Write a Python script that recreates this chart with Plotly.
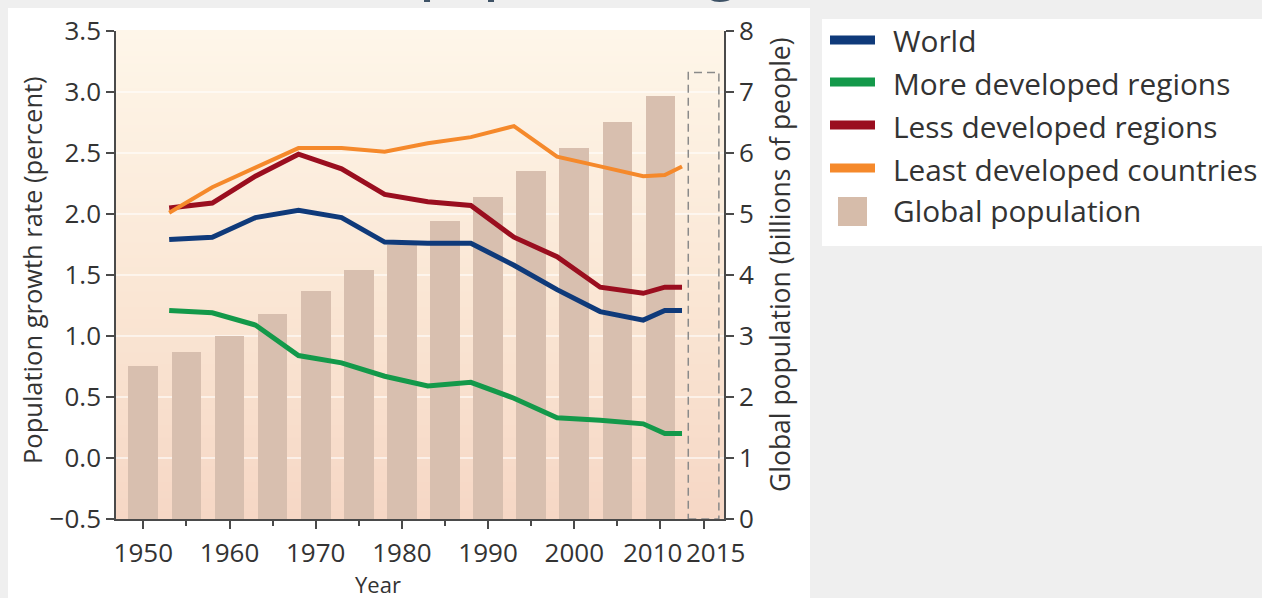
import plotly.graph_objects as go

# Population growth rate (percent), five-year period midpoints
years_rate = [1953, 1958, 1963, 1968, 1973, 1978, 1983, 1988, 1993, 1998, 2003, 2008, 2010.5, 2012.5]
world = [1.79, 1.81, 1.97, 2.03, 1.97, 1.77, 1.76, 1.76, 1.58, 1.38, 1.20, 1.13, 1.21, 1.21]
more_developed = [1.21, 1.19, 1.09, 0.84, 0.78, 0.67, 0.59, 0.62, 0.49, 0.33, 0.31, 0.28, 0.20, 0.20]
less_developed = [2.05, 2.09, 2.31, 2.49, 2.37, 2.16, 2.10, 2.07, 1.81, 1.65, 1.40, 1.35, 1.40, 1.40]
least_developed = [2.01, 2.22, 2.38, 2.54, 2.54, 2.51, 2.58, 2.63, 2.72, 2.47, 2.39, 2.31, 2.32, 2.39]

# Global population (billions of people)
years_pop = [1950, 1955, 1960, 1965, 1970, 1975, 1980, 1985, 1990, 1995, 2000, 2005, 2010]
global_pop = [2.51, 2.74, 3.00, 3.36, 3.73, 4.09, 4.49, 4.89, 5.28, 5.71, 6.09, 6.51, 6.93]
projected_year = 2015
projected_pop = 7.32

x_major = [1950, 1960, 1970, 1980, 1990, 2000, 2010, 2015]
x_major_text = ["1950", "1960", "1970", "1980", "1990", "2000", "", ""]
# the last two labels sit close together and are nudged apart
x_crowded = [(2010, "2010", -8), (2015, "2015", 12)]
x_minor = [1955, 1965, 1975, 1985, 1995, 2005]
rate_ticks = [-0.5, 0.0, 0.5, 1.0, 1.5, 2.0, 2.5, 3.0, 3.5]
pop_ticks = [0, 1, 2, 3, 4, 5, 6, 7, 8]

series = [
    ("World", world, "#0F3A7A", 5),
    ("More developed regions", more_developed, "#13994A", 5),
    ("Less developed regions", less_developed, "#9A0E1F", 5),
    ("Least developed countries", least_developed, "#F5892B", 4),
]
bar_color = "#D8BFAF"
FONT = "Open Sans"
TXT = "#333333"
AX = "#4A4A4A"
TICK_SIZE = 26

W, H = 1262, 598
L, R, T, B = 116, 538, 31, 79
PW, PH = W - L - R, H - T - B


def px(x):
    return (x - L) / PW


def py(y):
    return (H - B - y) / PH


fig = go.Figure()

bar_width = 3.45
fig.add_trace(go.Bar(
    x=years_pop, y=global_pop, width=bar_width, yaxis="y",
    marker=dict(color=bar_color, line=dict(width=0)), name="Global population",
))

draw_order = [1, 0, 2, 3]
for i in draw_order:
    name, vals, col, lw = series[i]
    fig.add_trace(go.Scatter(
        x=years_rate, y=vals, mode="lines", yaxis="y2", name=name,
        line=dict(color=col, width=lw),
    ))

shapes = []
# white panels on the grey page
shapes.append(dict(type="rect", xref="paper", yref="paper", x0=px(8), x1=px(810), y0=py(8), y1=py(598),
                   fillcolor="white", line=dict(width=0), layer="below"))
shapes.append(dict(type="rect", xref="paper", yref="paper", x0=px(822), x1=px(1262), y0=py(19), y1=py(246),
                   fillcolor="white", line=dict(width=0), layer="below"))

# plot-area background: cream at top fading to peach at the bottom
stops = [(0.0, (246, 215, 197)), (0.45, (250, 230, 212)), (1.0, (254, 246, 233))]


def grad(t):
    for (t0, c0), (t1, c1) in zip(stops[:-1], stops[1:]):
        if t0 <= t <= t1:
            f = (t - t0) / (t1 - t0)
            return "rgb(%d,%d,%d)" % tuple(round(a + (b - a) * f) for a, b in zip(c0, c1))
    return "rgb(%d,%d,%d)" % stops[-1][1]


nb = 120
for k in range(nb):
    shapes.append(dict(type="rect", xref="paper", yref="paper", x0=0, x1=1,
                       y0=k / nb, y1=(k + 1) / nb + 0.002,
                       fillcolor=grad((k + 0.5) / nb), line=dict(width=0), layer="below"))

# 2015 projection outline
shapes.append(dict(type="rect", xref="x", yref="y",
                   x0=projected_year - bar_width / 2 - 0.05, x1=projected_year + bar_width / 2 + 0.05,
                   y0=0, y1=projected_pop,
                   line=dict(color="#8A8A8A", width=1.5, dash="8px,5px"), fillcolor="rgba(0,0,0,0)",
                   layer="above"))

annotations = []
# legend
LEG = 29.8
rows = [40, 82, 125, 168]
for (name, vals, col, lw), ry in zip(series, rows):
    shapes.append(dict(type="line", xref="paper", yref="paper", x0=px(830), x1=px(875), y0=py(ry), y1=py(ry),
                       line=dict(color=col, width=9)))
    annotations.append(dict(text=name, xref="paper", yref="paper", x=px(891), y=py(ry + 1), xanchor="left",
                            yanchor="middle", showarrow=False, font=dict(family=FONT, size=LEG, color=TXT)))
shapes.append(dict(type="rect", xref="paper", yref="paper", x0=px(838), x1=px(867), y0=py(226), y1=py(197),
                   fillcolor="#D6BCAA", line=dict(width=0)))
annotations.append(dict(text="Global population", xref="paper", yref="paper", x=px(891), y=py(211),
                        xanchor="left", yanchor="middle", showarrow=False,
                        font=dict(family=FONT, size=LEG, color=TXT)))

# crowded x tick labels
for xv, lab, shift in x_crowded:
    annotations.append(dict(text=lab, xref="x", yref="paper", x=xv, xshift=shift, y=py(552),
                            xanchor="center", yanchor="middle", showarrow=False,
                            font=dict(family=FONT, size=TICK_SIZE, color=TXT)))

# axis titles
annotations.append(dict(text="Year", xref="paper", yref="paper", x=px(378), y=py(583.5), xanchor="center",
                        yanchor="middle", showarrow=False, font=dict(family=FONT, size=22, color=TXT)))
annotations.append(dict(text="Population growth rate (percent)", xref="paper", yref="paper", x=px(32),
                        y=py(270), xanchor="center", yanchor="middle", textangle=-90, showarrow=False,
                        font=dict(family=FONT, size=25.5, color=TXT)))
annotations.append(dict(text="Global population (billions of people)", xref="paper", yref="paper", x=px(780),
                        y=py(265), xanchor="center", yanchor="middle", textangle=-90, showarrow=False,
                        font=dict(family=FONT, size=26.5, color=TXT)))
# heading, running off the top edge
annotations.append(dict(text="World population growth", xref="paper", yref="paper", x=px(254), y=py(5.5),
                        xanchor="left", yanchor="bottom", showarrow=False,
                        font=dict(family=FONT, size=52, color="#3E5266", weight=600)))

tickfont = dict(family=FONT, size=TICK_SIZE, color=TXT)
fig.update_layout(
    width=W, height=H, margin=dict(l=L, r=R, t=T, b=B, pad=0),
    paper_bgcolor="#EFEFEF", plot_bgcolor="rgba(0,0,0,0)",
    showlegend=False, bargap=0,
    shapes=shapes, annotations=annotations,
    xaxis=dict(range=[1946.83, 2017.37], tickvals=x_major, ticktext=x_major_text, tickangle=0,
               ticks="outside", ticklen=8, tickwidth=1.5, tickcolor=AX, showline=True, linecolor=AX,
               linewidth=1.5, showgrid=False, zeroline=False, tickfont=tickfont, ticklabelstandoff=2,
               minor=dict(tickvals=x_minor, ticks="outside", ticklen=5, tickwidth=1.5, tickcolor=AX,
                          showgrid=False)),
    yaxis=dict(range=[0, 8], side="right", tickvals=pop_ticks, ticktext=[str(v) for v in pop_ticks],
               ticks="outside", ticklen=8, tickwidth=1.5, tickcolor=AX, showline=True, linecolor=AX,
               linewidth=1.5, showgrid=True, gridcolor="rgba(255,255,255,0.55)", gridwidth=2,
               zeroline=False, tickfont=tickfont),
    yaxis2=dict(range=[-0.5, 3.5], side="left", overlaying="y", tickvals=rate_ticks,
                ticktext=[("%.1f" % v).replace("-", "\u2212") for v in rate_ticks],
                ticks="outside", ticklen=8, tickwidth=1.5, tickcolor=AX, showline=True, linecolor=AX,
                linewidth=1.5, showgrid=False, zeroline=False, tickfont=tickfont),
)

fig.write_html("out.html")
